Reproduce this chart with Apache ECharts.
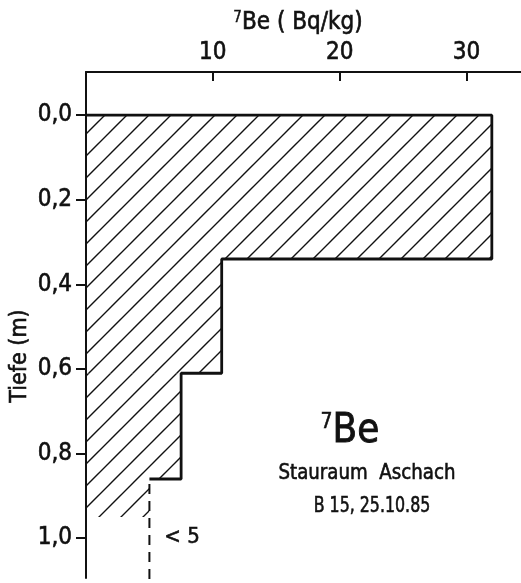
<!DOCTYPE html>
<html>
<head>
<meta charset="utf-8">
<script src="https://cdn.jsdelivr.net/npm/echarts@6/dist/echarts.min.js"></script>
<style>
html,body{margin:0;padding:0;background:#fff;}
#chart{width:521px;height:583px;}
</style>
</head>
<body>
<div id="chart"></div>
<script>
// Layer depths (m) and 7Be activity (Bq/kg)
const depthTop = [0, 0.34, 0.61, 0.86];
const depthBottom = [0.34, 0.61, 0.86, 0.95];
const be7 = [32, 10.7, 7.5, 5];
const depthTicks = [0, 0.2, 0.4, 0.6, 0.8, 1.0];
const detectionLimitEnd = 1.11;

const FONT = "'Liberation Sans Narrow', 'DejaVu Sans Condensed', sans-serif";
const INK = '#111';
const BW = 0.6;

// hatch pattern
const pc = document.createElement('canvas');
const S = 22;
pc.width = S; pc.height = S;
const ctx = pc.getContext('2d');
ctx.strokeStyle = INK;
ctx.lineWidth = 1.4;
ctx.beginPath();
ctx.moveTo(0, S); ctx.lineTo(S, 0);
ctx.moveTo(-3, 3); ctx.lineTo(3, -3);
ctx.moveTo(S - 3, S + 3); ctx.lineTo(S + 3, S - 3);
ctx.stroke();

// outline points
const outline = [[0, depthTop[0]]];
for (let i = 0; i < be7.length; i++) {
  outline.push([be7[i], depthTop[i]]);
  if (i < be7.length - 1) outline.push([be7[i], depthBottom[i]]);
}
const last = be7.length - 1;
const dashed = [[be7[last], depthTop[last] + 0.012], [be7[last], detectionLimitEnd]];

function txt(o) {
  return Object.assign({fontFamily: FONT, fill: INK, stroke: INK, lineWidth: BW, align: 'center', verticalAlign: 'middle'}, o);
}

const chart = echarts.init(document.getElementById('chart'), null, {renderer: 'canvas'});
chart.setOption({
  animation: false,
  backgroundColor: '#fff',
  grid: {left: 86, top: 72, right: 0, bottom: 5, containLabel: false},
  xAxis: {
    type: 'value', position: 'top', min: 0, max: 34.3, interval: 10,
    axisLine: {onZero: false, lineStyle: {color: INK, width: 2}},
    axisTick: {inside: true, length: 9, lineStyle: {color: INK, width: 2}},
    axisLabel: {showMinLabel: false, showMaxLabel: false, margin: 7, color: INK, fontSize: 24, fontFamily: FONT,
      textBorderColor: INK, textBorderWidth: BW},
    splitLine: {show: false}
  },
  yAxis: {
    type: 'value', inverse: true, min: -0.102, max: 1.094,
    axisLine: {onZero: false, lineStyle: {color: INK, width: 2}},
    axisTick: {customValues: depthTicks, length: 10, lineStyle: {color: INK, width: 2}},
    axisLabel: {customValues: depthTicks, margin: 14, color: INK, fontSize: 24, fontFamily: FONT,
      textBorderColor: INK, textBorderWidth: BW,
      formatter: v => v.toFixed(1).replace('.', ',')},
    splitLine: {show: false}
  },
  series: [
    {
      type: 'custom',
      data: be7.map((v, i) => [v, depthTop[i], depthBottom[i]]),
      renderItem: function (params, api) {
        const p0 = api.coord([0, api.value(1)]);
        const p1 = api.coord([api.value(0), api.value(2)]);
        return {
          type: 'rect',
          shape: {x: p0[0], y: p0[1], width: p1[0] - p0[0], height: p1[1] - p0[1]},
          style: {fill: {image: pc, repeat: 'repeat'}, stroke: null}
        };
      },
      silent: true
    },
    {
      type: 'line', data: outline, symbol: 'none', silent: true,
      lineStyle: {color: INK, width: 2.8}
    },
    {
      type: 'line', data: dashed, symbol: 'none', silent: true, clip: false,
      lineStyle: {color: INK, width: 2, type: [10, 7]}
    }
  ],
  graphic: [
    {type: 'text', x: 20, y: 356, rotation: Math.PI / 2,
      style: txt({text: 'Tiefe (m)', fontSize: 23})},
    {type: 'text', x: 298, y: 23,
      style: {text: '{s|7}{n|Be ( Bq/kg)}', align: 'center', verticalAlign: 'middle', fill: INK,
        rich: {s: {fontSize: 15, fontFamily: FONT, verticalAlign: 'top', fill: INK, stroke: INK, lineWidth: 0.4},
               n: {fontSize: 24, fontFamily: FONT, fill: INK, stroke: INK, lineWidth: BW}}}},
    {type: 'text', x: 350, y: 432,
      style: {text: '{s|7}{n|Be}', align: 'center', verticalAlign: 'middle', fill: INK,
        rich: {s: {fontSize: 21, fontFamily: FONT, verticalAlign: 'top', fill: INK, stroke: INK, lineWidth: 0.5},
               n: {fontSize: 40, fontFamily: FONT, fill: INK, stroke: INK, lineWidth: 0.8}}}},
    {type: 'text', x: 367, y: 473, scaleX: 0.92, originX: 0, originY: 0,
      style: txt({text: 'Stauraum  Aschach', fontSize: 22})},
    {type: 'text', x: 372, y: 506, scaleX: 0.8, originX: 0, originY: 0,
      style: txt({text: 'B 15, 25.10.85', fontSize: 22})},
    {type: 'text', x: 182, y: 537,
      style: txt({text: '< 5', fontSize: 22})}
  ]
});
</script>
</body>
</html>
